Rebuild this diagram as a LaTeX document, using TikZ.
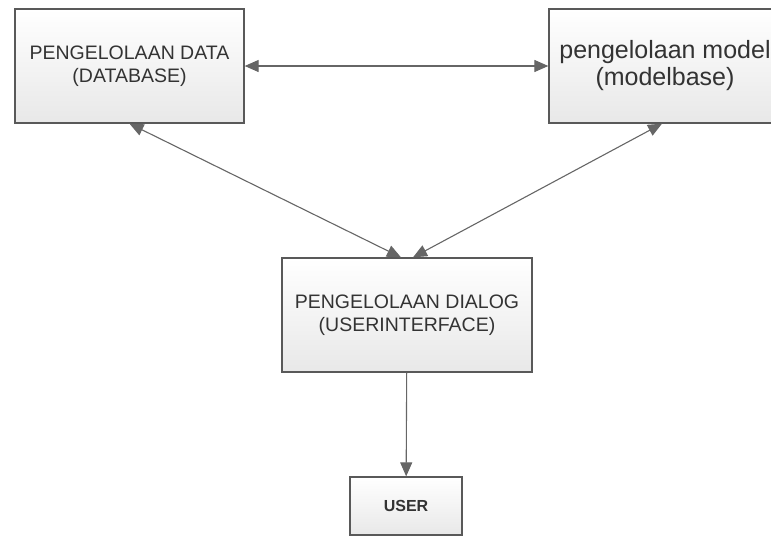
\documentclass[tikz,border=0pt]{standalone}
\usepackage{fontspec}
\setmainfont{Liberation Sans}
\usepackage{tikz}
\usetikzlibrary{calc,arrows.meta}
\tikzset{box/.style={draw=black!65, line width=1.3pt, top color=white, bottom color=black!9, text=black!80, align=center},
         link/.style={draw=black!60, line width=1.1pt, {Triangle[length=14pt,width=12pt]}-{Triangle[length=14pt,width=12pt]}, color=black!60},
         onearrow/.style={draw=black!60, line width=1.1pt, -{Triangle[length=14pt,width=12pt]}, color=black!60}}

\begin{document}
\begin{tikzpicture}[x=1pt,y=-1pt]
\useasboundingbox (0,0) rectangle (771,536);
\node[box, minimum width=229pt, minimum height=114pt, font=\fontsize{19.5}{23}\selectfont] (data) at (129.5,66) {PENGELOLAAN DATA\\(DATABASE)};
\node[box, minimum width=232pt, minimum height=114pt, font=\fontsize{25}{27}\selectfont] (model) at (665,66) {pengelolaan model\\(modelbase)};
\node[box, minimum width=250pt, minimum height=114pt, font=\fontsize{19.5}{23}\selectfont] (dialog) at (407,315) {PENGELOLAAN DIALOG\\(USERINTERFACE)};
\node[box, minimum width=112pt, minimum height=58pt, font=\fontsize{16}{18}\selectfont\bfseries] (user) at (406,506) {USER};
% connectors
\draw [link] (data) -- (model);
\draw [link] (data.south) -- ([xshift=-6pt]dialog.north);
\draw [link] ([xshift=-3pt]model.south) -- ([xshift=6pt]dialog.north);
\draw [onearrow] (dialog) -- (user); %dialog to user
\end{tikzpicture}
\end{document}
